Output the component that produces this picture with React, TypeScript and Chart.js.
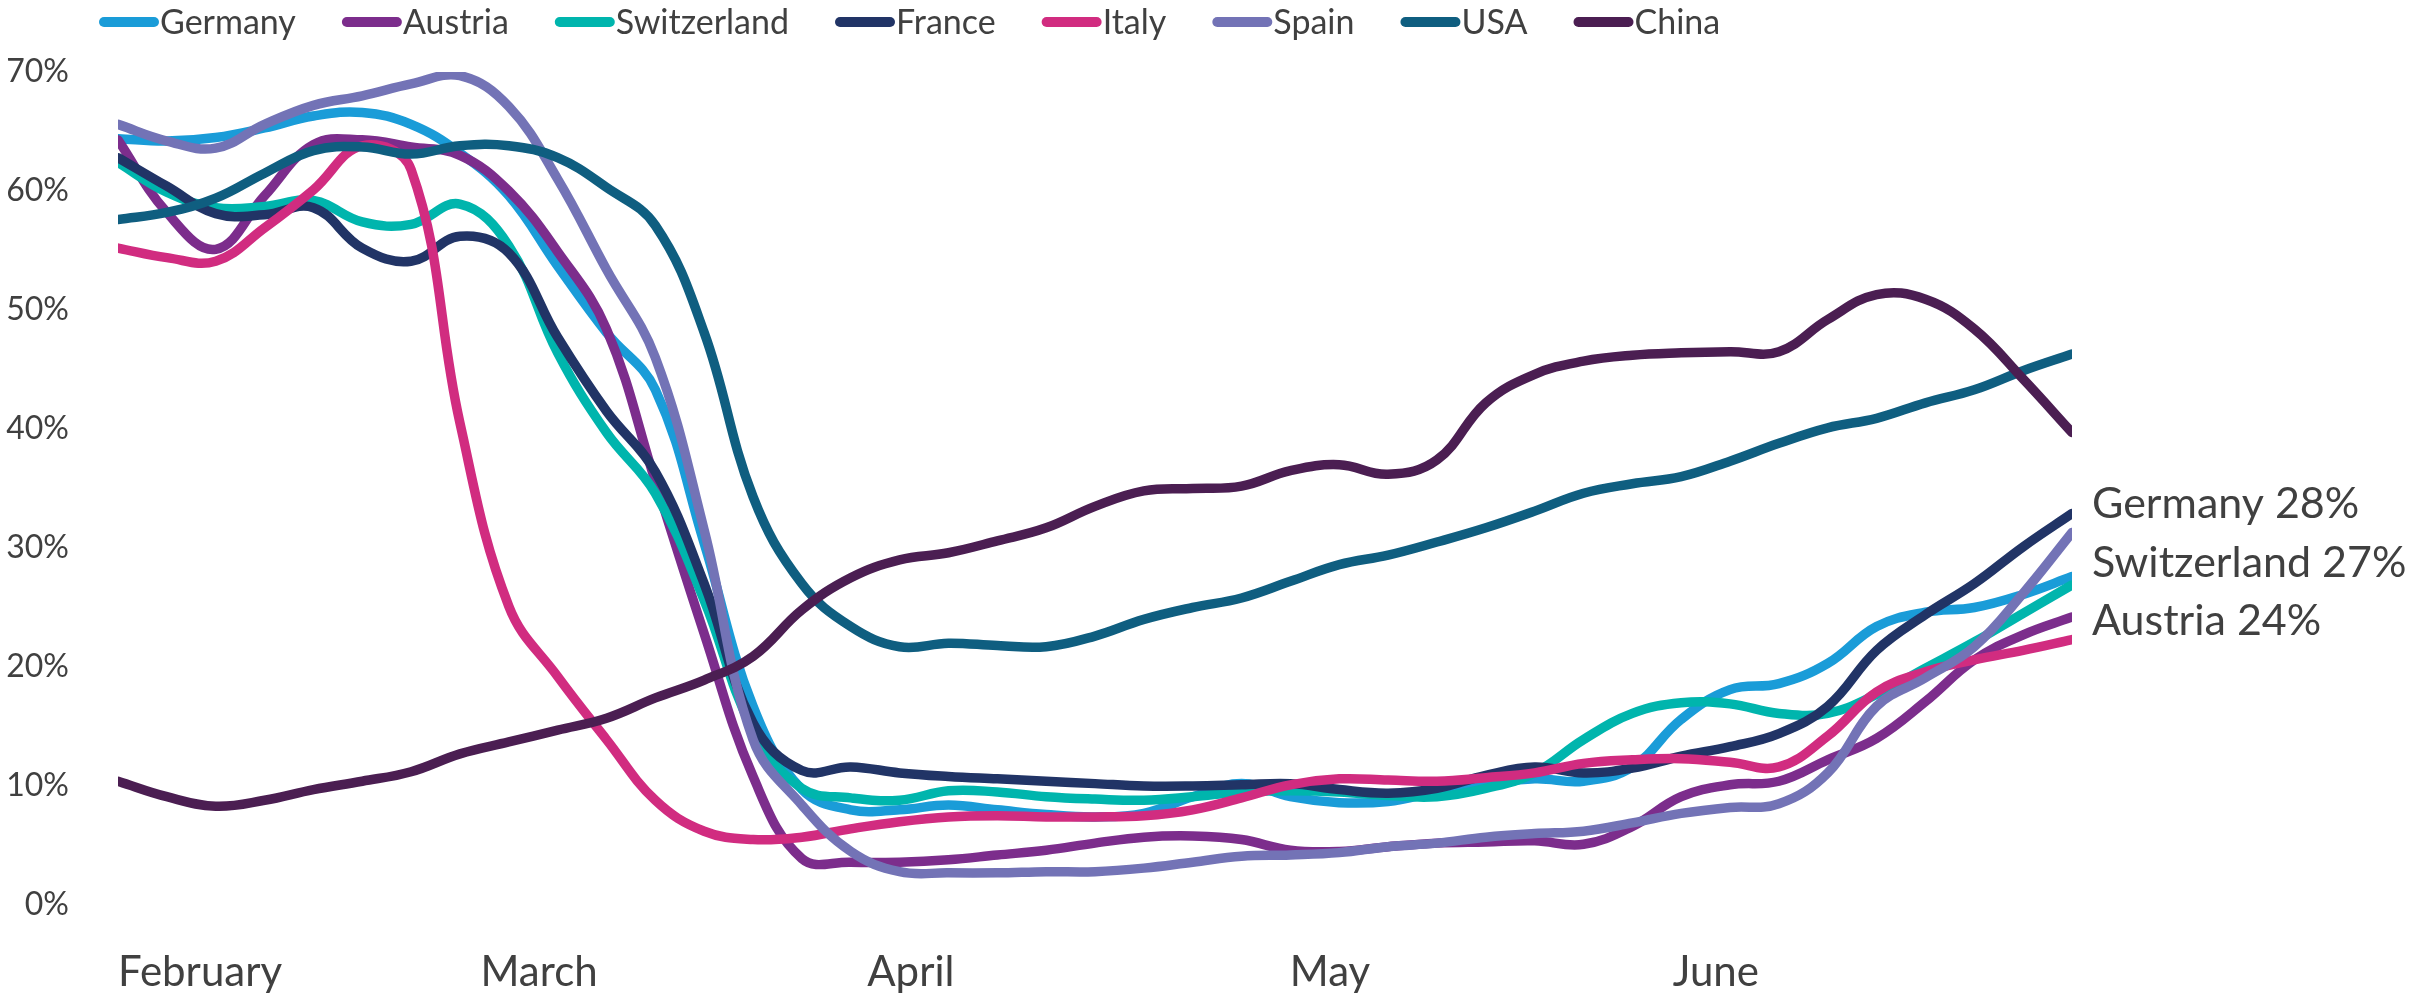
import React, { useEffect, useRef } from 'react';
import { Chart, registerables } from 'chart.js';

Chart.register(...registerables);

const seriesNames = ['Germany', 'Austria', 'Switzerland', 'France', 'Italy', 'Spain', 'USA', 'China'];
const seriesColors = ['#1a9cd8', '#7c2d8c', '#00b5ad', '#213466', '#d12c80', '#7373b6', '#0f5e80', '#4b1e52'];

const monthLabels = ['February', 'March', 'April', 'May', 'June'];
const monthTickPositions = [1.68, 8.62, 16.23, 24.81, 32.71];

const endLabels = ['Germany 28%', 'Switzerland 27%', 'Austria 24%'];

const germany = [64.4, 64.2, 64.5, 65.3, 66.3, 66.6, 65.6, 63.2, 59.6, 53.7, 48.1, 43.3, 30.4, 16.7, 9.7, 8.0, 8.0, 8.4, 8.0, 7.6, 7.4, 7.7, 9.1, 10.2, 9.1, 8.6, 8.7, 9.5, 10.1, 10.6, 10.4, 11.6, 15.6, 18.1, 18.6, 20.3, 23.4, 24.6, 25.0, 26.1, 27.6];
const austria = [64.3, 58.2, 55.1, 59.6, 63.9, 64.3, 63.7, 63.0, 60.0, 54.9, 48.4, 35.6, 22.8, 10.8, 3.9, 3.6, 3.6, 3.8, 4.2, 4.6, 5.2, 5.7, 5.8, 5.5, 4.6, 4.5, 4.9, 5.2, 5.3, 5.4, 5.1, 6.6, 9.1, 10.1, 10.4, 12.2, 14.0, 17.1, 20.6, 22.7, 24.2];
const switzerland = [62.4, 59.9, 58.6, 58.7, 59.2, 57.4, 57.2, 58.9, 55.4, 46.4, 39.7, 34.6, 25.6, 14.7, 9.8, 9.0, 8.8, 9.6, 9.5, 9.1, 8.9, 8.8, 9.1, 9.5, 9.6, 9.5, 9.2, 9.1, 9.8, 11.1, 13.9, 16.1, 17.0, 16.9, 16.1, 16.1, 17.7, 19.9, 22.1, 24.5, 26.9];
const france = [62.8, 60.4, 58.1, 58.0, 58.6, 55.2, 54.1, 56.2, 54.8, 47.7, 41.5, 36.4, 27.0, 15.3, 11.3, 11.6, 11.1, 10.8, 10.6, 10.4, 10.2, 10.0, 10.0, 10.1, 10.2, 9.7, 9.4, 9.8, 10.9, 11.6, 11.1, 11.5, 12.5, 13.3, 14.4, 16.7, 21.4, 24.4, 27.0, 30.1, 32.9];
const italy = [55.2, 54.4, 54.1, 56.9, 60.1, 63.8, 61.8, 40.5, 25.1, 19.2, 13.9, 8.8, 6.2, 5.5, 5.7, 6.4, 7.0, 7.4, 7.5, 7.4, 7.4, 7.5, 8.0, 9.0, 10.1, 10.6, 10.5, 10.4, 10.7, 11.1, 11.9, 12.2, 12.3, 12.0, 11.6, 14.2, 17.9, 19.6, 20.6, 21.4, 22.3];
const spain = [65.6, 64.2, 63.6, 65.6, 67.2, 68.0, 69.0, 69.7, 67.1, 61.0, 53.4, 46.0, 31.5, 13.9, 8.4, 4.5, 2.8, 2.7, 2.7, 2.8, 2.8, 3.1, 3.6, 4.1, 4.2, 4.4, 4.9, 5.2, 5.7, 6.0, 6.2, 6.9, 7.7, 8.2, 8.5, 11.1, 16.7, 19.1, 21.7, 26.2, 31.3];
const usa = [57.6, 58.2, 59.4, 61.5, 63.4, 63.7, 63.1, 63.8, 63.8, 62.8, 60.3, 57.1, 48.1, 34.3, 27.0, 23.4, 21.7, 22.0, 21.8, 21.7, 22.6, 24.0, 25.0, 25.8, 27.2, 28.6, 29.4, 30.5, 31.7, 33.1, 34.6, 35.4, 36.0, 37.3, 38.8, 40.1, 40.9, 42.2, 43.3, 44.9, 46.3];
const china = [10.4, 9.1, 8.3, 8.8, 9.7, 10.4, 11.2, 12.7, 13.7, 14.7, 15.7, 17.4, 18.9, 20.9, 24.8, 27.5, 29.0, 29.6, 30.6, 31.7, 33.5, 34.8, 35.0, 35.2, 36.5, 37.0, 36.2, 37.4, 42.2, 44.6, 45.7, 46.2, 46.4, 46.5, 46.5, 49.2, 51.3, 50.9, 48.4, 44.2, 39.7];

const seriesValues = [germany, austria, switzerland, france, italy, spain, usa, china];

const FONT = 'Lato, "Open Sans", sans-serif';
const TEXT_COLOR = '#404040';

const legendPlugin = {
  id: 'customLegend',
  afterDraw(chart: any) {
    const ctx = chart.ctx;
    ctx.save();
    ctx.font = `34px ${FONT}`;
    ctx.textBaseline = 'alphabetic';
    ctx.textAlign = 'left';
    let x = 99;
    seriesNames.forEach((name, i) => {
      ctx.strokeStyle = seriesColors[i];
      ctx.lineWidth = 10;
      ctx.lineCap = 'round';
      ctx.beginPath();
      ctx.moveTo(x + 5, 22);
      ctx.lineTo(x + 55, 22);
      ctx.stroke();
      ctx.fillStyle = TEXT_COLOR;
      ctx.fillText(name, x + 61, 34);
      x += 61 + ctx.measureText(name).width + 46;
    });
    ctx.restore();
  },
};

const endLabelPlugin = {
  id: 'endLabels',
  afterDraw(chart: any) {
    const ctx = chart.ctx;
    const area = chart.chartArea;
    ctx.save();
    ctx.font = `43px ${FONT}`;
    ctx.fillStyle = TEXT_COLOR;
    ctx.textAlign = 'left';
    ctx.textBaseline = 'alphabetic';
    const x = area.right + 20;
    endLabels.forEach((t, i) => {
      ctx.fillText(t, x, 518 + i * 58.5);
    });
    ctx.restore();
  },
};

export default function App() {
  const canvasRef = useRef<HTMLCanvasElement | null>(null);

  useEffect(() => {
    if (!canvasRef.current) return;
    const n = seriesNames.length;
    const chart = new Chart(canvasRef.current, {
      type: 'line',
      data: {
        datasets: seriesNames.map((name, i) => ({
          label: name,
          data: seriesValues[i].map((v, k) => ({ x: k, y: v })),
          borderColor: seriesColors[i],
          backgroundColor: seriesColors[i],
          borderWidth: 9.5,
          borderCapStyle: 'round' as const,
          borderJoinStyle: 'round' as const,
          pointRadius: 0,
          pointHoverRadius: 0,
          tension: 0.4,
          fill: false,
          order: n - i,
        })),
      },
      options: {
        animation: false,
        responsive: true,
        maintainAspectRatio: false,
        devicePixelRatio: 1,
        layout: { padding: { left: 0, right: 345, top: 72, bottom: 0 } },
        plugins: {
          legend: { display: false },
          tooltip: { enabled: false },
        },
        scales: {
          x: {
            type: 'linear',
            min: 0,
            max: seriesValues[0].length - 1,
            grid: { display: false },
            border: { display: false },
            afterBuildTicks: (scale: any) => {
              scale.ticks = monthTickPositions.map((v) => ({ value: v }));
            },
            afterFit: (scale: any) => {
              scale.height = 93;
            },
            ticks: {
              autoSkip: false,
              maxRotation: 0,
              padding: 34,
              color: TEXT_COLOR,
              font: { family: FONT, size: 42 },
              callback: (_v: any, idx: number) => monthLabels[idx],
            },
          },
          y: {
            min: 0,
            max: 70,
            grid: { display: false },
            border: { display: false },
            afterFit: (scale: any) => {
              scale.width = 118;
            },
            ticks: {
              stepSize: 10,
              padding: 41,
              color: TEXT_COLOR,
              font: { family: FONT, size: 32 },
              callback: (v: any) => `${v}%`,
            },
          },
        },
      },
      plugins: [legendPlugin, endLabelPlugin],
    });
    return () => chart.destroy();
  }, []);

  return (
    <div style={{ position: 'absolute', left: 0, top: 0, width: '2417px', height: '998px', background: '#ffffff' }}>
      <canvas ref={canvasRef} />
    </div>
  );
}
